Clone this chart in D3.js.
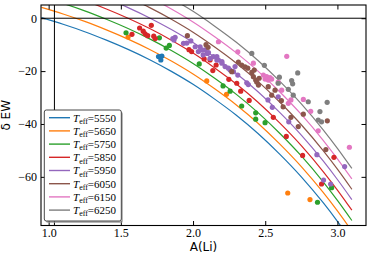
<!DOCTYPE html>
<html><head><meta charset="utf-8">
<script src="https://cdn.jsdelivr.net/npm/d3@7"></script>
<style>body{margin:0;background:#fff}svg{display:block}</style>
</head><body><svg id="c" width="370" height="254"></svg>
<script>
const teffLabels = ["5550","5650","5750","5850","5950","6050","6150","6250"];
const colors = ["#1f77b4","#ff7f0e","#2ca02c","#d62728","#9467bd","#8c564b","#e377c2","#7f7f7f"];
const xTicks = [1.0,1.5,2.0,2.5,3.0];
const yTicks = [0,-20,-40,-60];
const refA = 1.04;

// model curves: A(Li) grid and dEW per Teff
const curveA = [0.95,1.1,1.25,1.4,1.55,1.7,1.85,2.0,2.15,2.3,2.45,2.6,2.75,2.9,3.0,3.1];
const curve5550 = [0.2,-2.3,-5.1,-8.3,-11.8,-15.7,-20.1,-25.0,-30.6,-36.7,-43.6,-51.4,-60.0,-69.7,-76.8,-84.4];
const curve5650 = [4.1,1.6,-1.2,-4.4,-7.9,-11.8,-16.2,-21.1,-26.7,-32.8,-39.7,-47.5,-56.1,-65.8,-72.9,-80.5];
const curve5750 = [8.1,5.6,2.8,-0.4,-3.9,-7.8,-12.2,-17.1,-22.7,-28.8,-35.7,-43.5,-52.1,-61.8,-68.9,-76.5];
const curve5850 = [12.0,9.5,6.7,3.5,0.0,-3.9,-8.3,-13.2,-18.8,-24.9,-31.8,-39.6,-48.2,-57.9,-65.0,-72.6];
const curve5950 = [16.0,13.5,10.7,7.5,4.0,0.1,-4.3,-9.2,-14.8,-20.9,-27.8,-35.6,-44.2,-53.9,-61.0,-68.6];
const curve6050 = [19.9,17.4,14.6,11.4,7.9,4.0,-0.4,-5.3,-10.9,-17.0,-23.9,-31.7,-40.3,-50.0,-57.1,-64.7];
const curve6150 = [23.8,21.3,18.5,15.3,11.8,7.9,3.5,-1.4,-7.0,-13.1,-20.0,-27.8,-36.4,-46.1,-53.2,-60.8];
const curve6250 = [27.8,25.3,22.5,19.3,15.8,11.9,7.5,2.6,-3.0,-9.1,-16.0,-23.8,-32.4,-42.1,-49.2,-56.8];

// observed stars: [A(Li), dEW]
const stars5550 = [[1.761,-14.5],[1.784,-14.3],[1.777,-15.8]];
const stars5650 = [[1.550,-7.1],[2.095,-23.7],[2.232,-28.8],[2.656,-66.1],[2.81,-68.6]];
const stars5750 = [[1.536,-5.5],[1.767,-7.4],[1.814,-11.3],[1.836,-10.3],[2.043,-17.3],[2.208,-25.6],[2.257,-27.6],[2.337,-33.2],[2.434,-35.8],[2.434,-38.2],[2.499,-39.5],[2.96,-64.1],[2.862,-69.6]];
const stars5850 = [[1.577,-6.1],[1.630,-3.7],[1.655,-4.9],[1.668,-5.9],[1.686,-6.6],[1.711,-2.7],[1.728,-6.8],[1.738,-7.7],[1.972,-11.9],[1.99,-12.6],[2.077,-15.4],[2.118,-15.8],[2.16,-17.7],[2.137,-19.8],[2.248,-23.1],[2.303,-24.6],[2.33,-27.6],[2.389,-31.1],[2.556,-37.5],[2.646,-44.7],[2.759,-51.9],[2.976,-52.6],[2.89,-62.7]];
const stars5950 = [[1.86,-7.7],[1.876,-7.2],[1.868,-8.2],[1.934,-9.5],[1.957,-9.4],[1.985,-8.6],[2.015,-10.8],[2.037,-12.6],[2.049,-10.8],[2.06,-12.0],[2.07,-13.9],[2.084,-12.0],[2.1,-13.3],[2.107,-13.0],[2.118,-15.2],[2.141,-14.5],[2.165,-14.5],[2.165,-15.8],[2.176,-15.8],[2.2,-17.0],[2.2,-16.4],[2.222,-18.3],[2.245,-18.9],[2.257,-19.6],[2.28,-20.2],[2.291,-18.3],[2.31,-21.5],[2.372,-24.4],[2.383,-25.1],[2.519,-30.9],[2.549,-33.7],[2.59,-29.7],[2.663,-39.2],[2.858,-51.6],[2.904,-61.2],[2.953,-62.7],[3.05,-56.1]];
const stars6050 = [[1.961,-6.6],[2.09,-10.0],[2.104,-11.0],[2.268,-20.2],[2.314,-16.6],[2.337,-17.7],[2.36,-18.4],[2.379,-18.9],[2.407,-20.5],[2.418,-22.1],[2.424,-19.6],[2.434,-23.4],[2.441,-24.1],[2.453,-25.3],[2.458,-22.7],[2.521,-25.9],[2.545,-29.1],[2.568,-27.2],[2.612,-31.2],[2.624,-33.5],[2.678,-37.5],[2.729,-41.0],[2.764,-36.3],[2.93,-38.8],[2.92,-49.7]];
const stars6150 = [[2.176,-8.9],[2.31,-12.7],[2.418,-17.0],[2.487,-21.5],[2.499,-23.0],[2.51,-22.1],[2.521,-23.4],[2.533,-22.5],[2.545,-23.0],[2.59,-24.2],[2.649,-14.4],[2.614,-27.2],[2.66,-32.2],[2.678,-30.9],[2.764,-30.7],[2.815,-35.2],[2.867,-42.6],[3.083,-48.8]];
const stars6250 = [[2.407,-13.3],[2.494,-17.8],[2.598,-22.3],[2.59,-24.6],[2.683,-23.6],[2.69,-24.8],[2.725,-20.7],[2.66,-26.9],[2.694,-29.1],[2.798,-31.6],[2.929,-31.8],[2.879,-35.3],[2.867,-38.5],[2.89,-39.2]];

const curves = [curve5550,curve5650,curve5750,curve5850,curve5950,curve6050,curve6150,curve6250];
const stars = [stars5550,stars5650,stars5750,stars5850,stars5950,stars6050,stars6150,stars6250];

const L=41, R=366, T=5, B=225.5;
const svg = d3.select("#c");
const x = d3.scaleLinear().domain([0.947,3.198]).range([L,R]);
const y = d3.scaleLinear().domain([5.0,-78.4]).range([T,B]);

svg.append("defs").append("clipPath").attr("id","clip")
  .append("rect").attr("x",L).attr("y",T).attr("width",R-L).attr("height",B-T);

const plot = svg.append("g").attr("clip-path","url(#clip)");
const line = d3.line().x(d=>x(d[0])).y(d=>y(d[1])).curve(d3.curveMonotoneX);
curves.forEach((c,i)=>{
  plot.append("path").datum(curveA.map((a,j)=>[a,c[j]]))
    .attr("d",line).attr("fill","none").attr("stroke",colors[i]).attr("stroke-width",1.2);
});
plot.append("line").attr("x1",L).attr("x2",R).attr("y1",y(0)).attr("y2",y(0)).attr("stroke","#000").attr("stroke-width",1);
plot.append("line").attr("x1",x(refA)).attr("x2",x(refA)).attr("y1",T).attr("y2",B).attr("stroke","#000").attr("stroke-width",1);
stars.forEach((s,i)=>{
  plot.selectAll(null).data(s).enter().append("circle")
    .attr("cx",d=>x(d[0])).attr("cy",d=>y(d[1])).attr("r",2.6).attr("fill",colors[i]);
});

// axes
const font = "Liberation Serif, serif";
function style(g){
  g.select(".domain").remove();
  g.selectAll(".tick line").attr("stroke","#000").attr("stroke-width",1);
  g.selectAll(".tick text").attr("font-family",font).attr("font-size",12).attr("fill","#000");
}
svg.append("g").attr("transform",`translate(0,${B})`)
  .call(d3.axisBottom(x).tickValues(xTicks).tickFormat(d3.format(".1f")).tickSize(-4.5).tickSizeOuter(0).tickPadding(2.5)).call(style);
svg.append("g").attr("transform",`translate(0,${T})`)
  .call(d3.axisTop(x).tickValues(xTicks).tickFormat("").tickSize(-4.5).tickSizeOuter(0)).call(style);
svg.append("g").attr("transform",`translate(${L},0)`)
  .call(d3.axisLeft(y).tickValues(yTicks).tickFormat(d3.format("d")).tickSize(-4.5).tickSizeOuter(0).tickPadding(4)).call(style);
svg.append("g").attr("transform",`translate(${R},0)`)
  .call(d3.axisRight(y).tickValues(yTicks).tickFormat("").tickSize(-4.5).tickSizeOuter(0)).call(style);
svg.append("rect").attr("x",L).attr("y",T).attr("width",R-L).attr("height",B-T)
  .attr("fill","none").attr("stroke","#000").attr("stroke-width",1.1);

// axis labels
svg.append("text").attr("x",(L+R)/2).attr("y",251).attr("text-anchor","middle")
  .attr("font-family","DejaVu Sans, sans-serif").attr("font-size",12).text("A(Li)");
svg.append("text").attr("transform",`translate(10,${(T+B)/2}) rotate(-90)`).attr("text-anchor","middle")
  .attr("font-family","DejaVu Sans, sans-serif").attr("font-size",12).text("δ EW");

// legend
const lg = svg.append("g");
lg.append("rect").attr("x",46).attr("y",112).attr("width",77).attr("height",111).attr("rx",2).attr("fill","#999").attr("opacity",0.7);
lg.append("rect").attr("x",44.3).attr("y",110).attr("width",77).attr("height",111).attr("rx",2).attr("fill","#fff").attr("stroke","#333").attr("stroke-width",0.9);
teffLabels.forEach((t,i)=>{
  const yy = 117.7 + i*13.2;
  lg.append("line").attr("x1",49).attr("x2",70).attr("y1",yy).attr("y2",yy).attr("stroke",colors[i]).attr("stroke-width",1.4);
  const tx = lg.append("text").attr("x",73).attr("y",yy+3.8).attr("font-family",font).attr("font-size",11).attr("fill","#000");
  tx.append("tspan").attr("font-style","italic").text("T");
  tx.append("tspan").attr("font-size",8).attr("dy",2.5).text("eff");
  tx.append("tspan").attr("dy",-2.5).text("=" + t);
});
</script></body></html>
